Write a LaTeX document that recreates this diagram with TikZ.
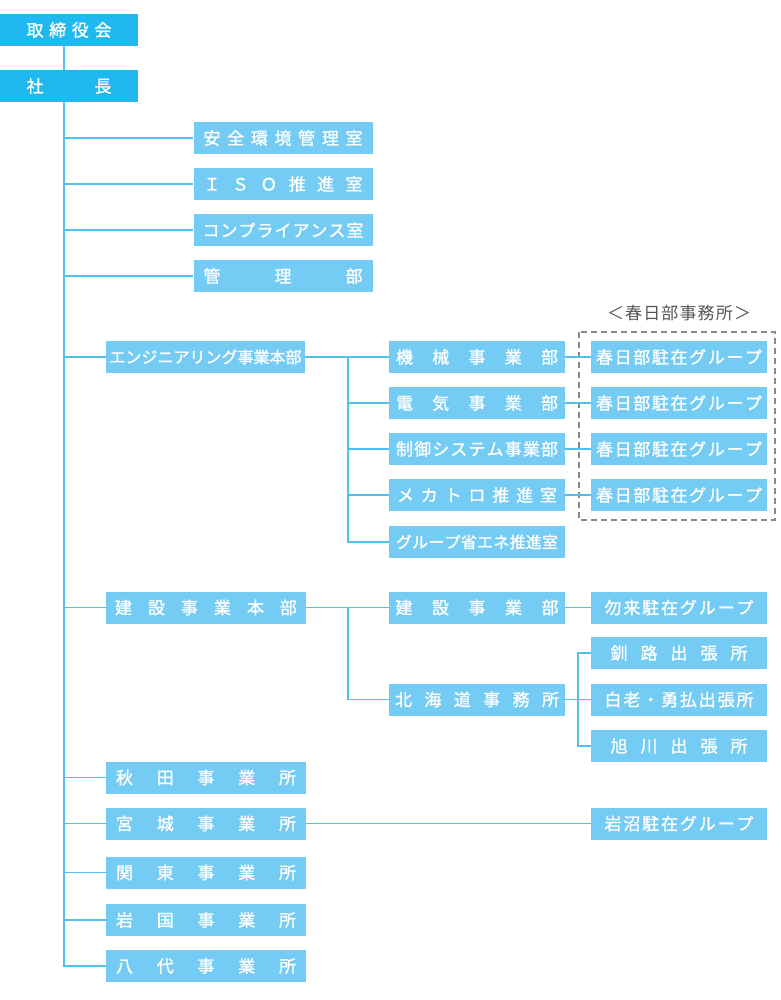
\documentclass[tikz,border=0pt]{standalone}
\usepackage{fontspec}
\setmainfont{Noto Sans CJK JP}
\newfontfamily\medfont{Noto Sans CJK JP}[FakeBold=1.2]
\usetikzlibrary{calc}
\definecolor{topc}{HTML}{1FB9EF}
\definecolor{boxc}{HTML}{74CBF3}
\definecolor{linec}{HTML}{50C0EC}
\definecolor{dashc}{HTML}{8A8A8A}
\definecolor{labc}{HTML}{555555}
\def\spreadchars#1{\spreadA#1\relax}
\def\spreadA#1{#1\spreadB}
\def\spreadB#1{\ifx\relax#1\else\hfill#1\expandafter\spreadB\fi}
\newcommand\spreadtxt[2]{\makebox[#1pt][s]{\spreadchars{#2}}}
\tikzset{
  basebox/.style={text=white, minimum height=32pt, inner sep=0pt, font=\medfont\fontsize{17pt}{17pt}\selectfont},
  topbox/.style={basebox, fill=topc, minimum width=138pt},
  officebox/.style={basebox, fill=boxc, minimum width=179pt},
  hqbox/.style={basebox, fill=boxc, minimum width=200pt},
  midbox/.style={basebox, fill=boxc, minimum width=176pt},
  grpbox/.style={basebox, fill=boxc, minimum width=176pt},
  conn/.style={draw=linec, line width=1.6pt},
  dashbox/.style={draw=dashc, line width=1.5pt, dash pattern=on 6pt off 4pt},
}
\begin{document}
\begin{tikzpicture}[x=1pt,y=-1pt]
\useasboundingbox (0,0) rectangle (780,1000);
\fill[white] (0,0) rectangle (780,1000);
\coordinate (T) at (64,0);
\coordinate (E) at (348,0);
\coordinate (H) at (578,0);
% top
\node[topbox] (tor) at (69,30) {\spreadtxt{85}{取締役会}};
\node[topbox] (sha) at (69,86) {\spreadtxt{85}{社長}};
% staff offices
\node[officebox] (anzen) at (283,138) {\spreadtxt{159}{安全環境管理室}};
\node[officebox] (iso) at (283,184) {\spreadtxt{159}{ＩＳＯ推進室}};
\node[officebox] (compl) at (283,230) {\spreadtxt{161}{コンプライアンス室}};
\node[officebox] (kanri) at (283,276) {\spreadtxt{159}{管理部}};
% engineering
\node[hqbox, minimum width=199pt, font=\medfont\fontsize{16pt}{16pt}\selectfont] (eng) at (205.5,357) {\spreadtxt{192}{エンジニアリング事業本部}};
\node[midbox] (kikai) at (477,357) {\spreadtxt{162}{機械事業部}};
\node[midbox] (denki) at (477,403) {\spreadtxt{162}{電気事業部}};
\node[midbox] (seigyo) at (477,449) {\spreadtxt{162}{制御システム事業部}};
\node[midbox] (mecha) at (477,495) {\spreadtxt{160}{メカトロ推進室}};
\node[midbox, font=\medfont\fontsize{16pt}{16pt}\selectfont] (green) at (477,542) {\spreadtxt{162}{グループ省エネ推進室}};
\draw[dashbox] (579,332) rectangle (775,520);
\node[text=labc, font=\fontsize{17pt}{17pt}\selectfont, inner sep=0pt] (kaslab) at (679,313) {\spreadtxt{144}{＜春日部事務所＞}};
\node[grpbox] (kas1) at (679,357) {\spreadtxt{166}{春日部駐在グループ}};
\node[grpbox] (kas2) at (679,403) {\spreadtxt{166}{春日部駐在グループ}};
\node[grpbox] (kas3) at (679,449) {\spreadtxt{166}{春日部駐在グループ}};
\node[grpbox] (kas4) at (679,495) {\spreadtxt{166}{春日部駐在グループ}};
% construction
\node[hqbox] (kenhq) at (206,607.5) {\spreadtxt{182}{建設事業本部}};
\node[midbox] (kensetsu) at (477,607.5) {\spreadtxt{163}{建設事業部}};
\node[grpbox] (nakoso) at (679,607.5) {\spreadtxt{149}{勿来駐在グループ}};
\node[midbox] (hokkaido) at (477,699.5) {\spreadtxt{164}{北海道事務所}};
\node[grpbox] (kushiro) at (679,653) {\spreadtxt{137}{釧路出張所}};
\node[grpbox] (shiraoi) at (679,699.5) {\spreadtxt{149}{白老・勇払出張所}};
\node[grpbox] (asahikawa) at (679,746) {\spreadtxt{137}{旭川出張所}};
% regional offices
\node[hqbox] (akita) at (206,777.5) {\spreadtxt{180}{秋田事業所}};
\node[hqbox] (miyagi) at (206,823.5) {\spreadtxt{180}{宮城事業所}};
\node[grpbox] (iwanuma) at (679,823.5) {\spreadtxt{149}{岩沼駐在グループ}};
\node[hqbox] (kanto) at (206,872.5) {\spreadtxt{180}{関東事業所}};
\node[hqbox] (iwakuni) at (206,920) {\spreadtxt{180}{岩国事業所}};
\node[hqbox] (yashiro) at (206,966) {\spreadtxt{180}{八代事業所}};
% connectors: main trunk
\draw[conn] (T |- tor.south) -- (T |- sha.north);
\draw[conn] (T |- sha.south) |- (yashiro.west);
\foreach \n in {anzen,iso,compl,kanri,eng,kenhq,akita,miyagi,kanto,iwakuni}
  \draw[conn] (T |- \n.west) -- (\n.west);
% engineering
\draw[conn] (eng.east) -- (kikai.west);
\draw[conn] (E |- eng.east) |- (green.west);
\foreach \n in {denki,seigyo,mecha}
  \draw[conn] (E |- \n.west) -- (\n.west);
\draw[conn] (kikai.east) -- (kas1.west);
\draw[conn] (denki.east) -- (kas2.west);
\draw[conn] (seigyo.east) -- (kas3.west);
\draw[conn] (mecha.east) -- (kas4.west);
% construction
\draw[conn] (kenhq.east) -- (kensetsu.west);
\draw[conn] (E |- kenhq.east) |- (hokkaido.west);
\draw[conn] (kensetsu.east) -- (nakoso.west);
\draw[conn] (hokkaido.east) -- (shiraoi.west);
\draw[conn] (kushiro.west) -- (H |- kushiro.west) -- (H |- asahikawa.west) -- (asahikawa.west);
% miyagi
\draw[conn] (miyagi.east) -- (iwanuma.west);
\end{tikzpicture}
\end{document}
